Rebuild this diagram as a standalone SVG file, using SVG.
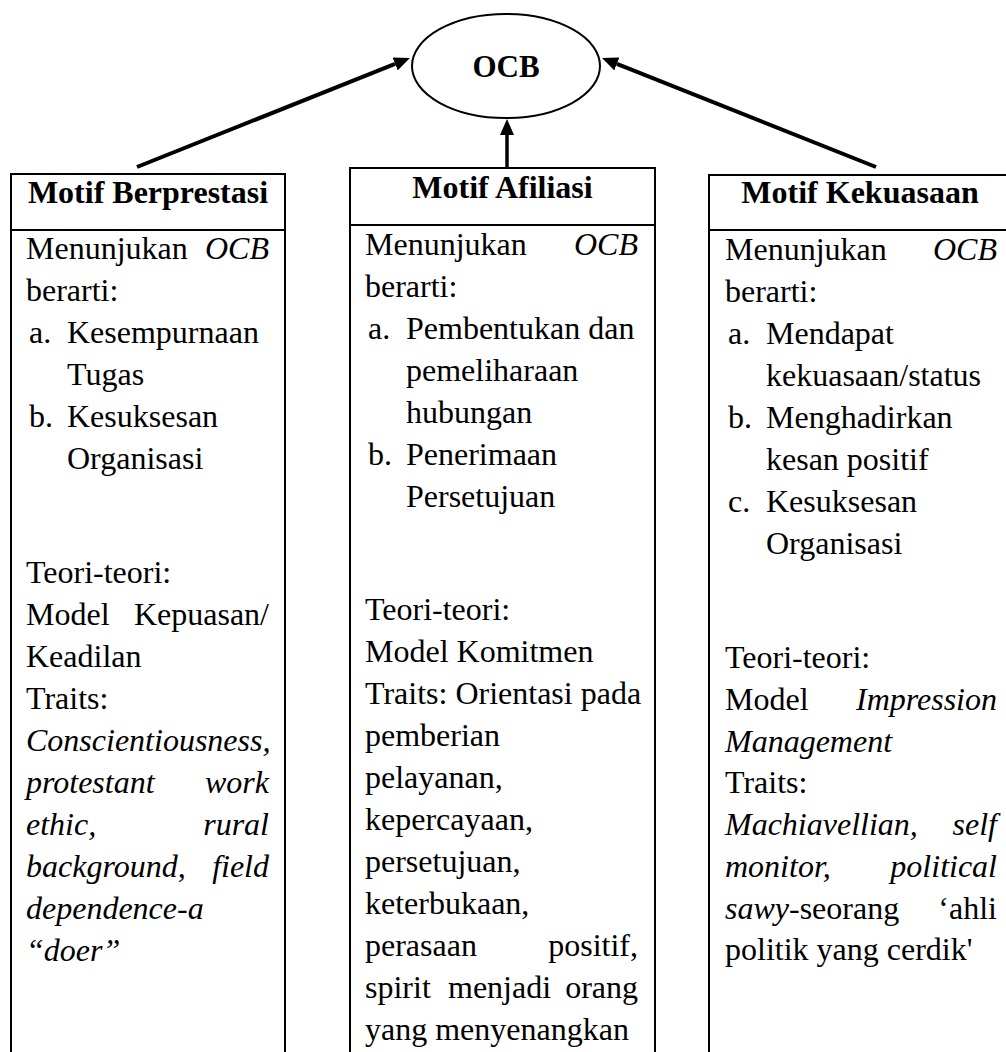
<svg xmlns="http://www.w3.org/2000/svg" width="1006" height="1052" viewBox="0 0 1006 1052">
<style>
text{font-family:"Liberation Serif","Times New Roman",serif;font-size:32px;fill:#000}
.b{font-weight:bold}
.i{font-style:italic}
.e{text-anchor:end}
.m{text-anchor:middle}
.box{fill:none;stroke:#000;stroke-width:2}
.div{stroke:#000;stroke-width:2}
.arr{stroke:#000;stroke-width:4;fill:none;marker-end:url(#ah)}
</style>
<defs>
<marker id="ah" viewBox="0 0 16 14" refX="0" refY="7" markerWidth="16" markerHeight="14" markerUnits="userSpaceOnUse" orient="auto">
<path d="M0,0 L16,7 L0,14 z" fill="#000"/>
</marker>
</defs>
<rect width="1006" height="1052" fill="#fff"/>

<g id="connectors">
<line class="arr" x1="137" y1="167" x2="395.1" y2="63.9"/>
<line class="arr" x1="876" y1="167" x2="616.9" y2="63.9"/>
<line class="arr" x1="507" y1="168" x2="507" y2="135" style="stroke-width:3.5"/>
</g>

<g id="ocb">
<ellipse cx="506" cy="66" rx="94" ry="52" fill="#fff" stroke="#000" stroke-width="2"/>
<text class="b m" x="506" y="77" style="font-size:31px">OCB</text>
</g>

<g id="motif-berprestasi">
<rect class="box" x="11" y="174" width="274" height="900"/>
<line class="div" x1="11" y1="230" x2="285" y2="230"/>
<text class="b m" x="148" y="203">Motif Berprestasi</text>
<text x="26" y="259">Menunjukan</text><text class="i e" x="269" y="259">OCB</text>
<text x="26" y="301">berarti:</text>
<text x="29" y="343">a.</text><text x="67" y="343">Kesempurnaan</text>
<text x="67" y="385">Tugas</text>
<text x="29" y="427">b.</text><text x="67" y="427">Kesuksesan</text>
<text x="67" y="469">Organisasi</text>
<text x="26" y="583">Teori-teori:</text>
<text x="26" y="625">Model</text><text class="e" x="269" y="625">Kepuasan/</text>
<text x="26" y="667">Keadilan</text>
<text x="26" y="709">Traits:</text>
<text class="i" x="26" y="751">Conscientiousness,</text>
<text class="i" x="26" y="793">protestant</text><text class="i e" x="269" y="793">work</text>
<text class="i" x="26" y="835">ethic,</text><text class="i e" x="269" y="835">rural</text>
<text class="i" x="26" y="877">background,</text><text class="i e" x="269" y="877">field</text>
<text class="i" x="26" y="919">dependence-a</text>
<text class="i" x="26" y="961">“doer”</text>
</g>

<g id="motif-afiliasi">
<rect class="box" x="350" y="168" width="305" height="900"/>
<line class="div" x1="350" y1="225" x2="655" y2="225"/>
<text class="b m" x="502.5" y="198">Motif Afiliasi</text>
<text x="365" y="255">Menunjukan</text><text class="i e" x="638" y="255">OCB</text>
<text x="365" y="297">berarti:</text>
<text x="368" y="339">a.</text><text x="406" y="339">Pembentukan dan</text>
<text x="406" y="381">pemeliharaan</text>
<text x="406" y="423">hubungan</text>
<text x="368" y="465">b.</text><text x="406" y="465">Penerimaan</text>
<text x="406" y="507">Persetujuan</text>
<text x="365" y="620">Teori-teori:</text>
<text x="365" y="662">Model Komitmen</text>
<text x="365" y="704">Traits: Orientasi pada</text>
<text x="365" y="746">pemberian</text>
<text x="365" y="788">pelayanan,</text>
<text x="365" y="830">kepercayaan,</text>
<text x="365" y="872">persetujuan,</text>
<text x="365" y="914">keterbukaan,</text>
<text x="365" y="956">perasaan</text><text class="e" x="638" y="956">positif,</text>
<text x="365" y="998">spirit</text><text x="448" y="998">menjadi</text><text class="e" x="638" y="998">orang</text>
<text x="365" y="1040">yang menyenangkan</text>
</g>

<g id="motif-kekuasaan">
<rect class="box" x="709" y="175" width="320" height="900"/>
<line class="div" x1="709" y1="230" x2="1006" y2="230"/>
<text class="b m" x="860" y="203">Motif Kekuasaan</text>
<text x="725" y="260">Menunjukan</text><text class="i e" x="997" y="260">OCB</text>
<text x="725" y="302">berarti:</text>
<text x="728" y="344">a.</text><text x="766" y="344">Mendapat</text>
<text x="766" y="386">kekuasaan/status</text>
<text x="728" y="428">b.</text><text x="766" y="428">Menghadirkan</text>
<text x="766" y="470">kesan positif</text>
<text x="728" y="512">c.</text><text x="766" y="512">Kesuksesan</text>
<text x="766" y="554">Organisasi</text>
<text x="725" y="668">Teori-teori:</text>
<text x="725" y="710">Model</text><text class="i e" x="997" y="710">Impression</text>
<text class="i" x="725" y="752">Management</text>
<text x="725" y="793">Traits:</text>
<text class="i" x="725" y="835">Machiavellian,</text><text class="i e" x="997" y="835">self</text>
<text class="i" x="725" y="877">monitor,</text><text class="i e" x="997" y="877">political</text>
<text x="725" y="919"><tspan class="i">sawy</tspan>-seorang</text><text class="e" x="997" y="919">‘ahli</text>
<text x="725" y="960">politik yang cerdik'</text>
</g>
</svg>
